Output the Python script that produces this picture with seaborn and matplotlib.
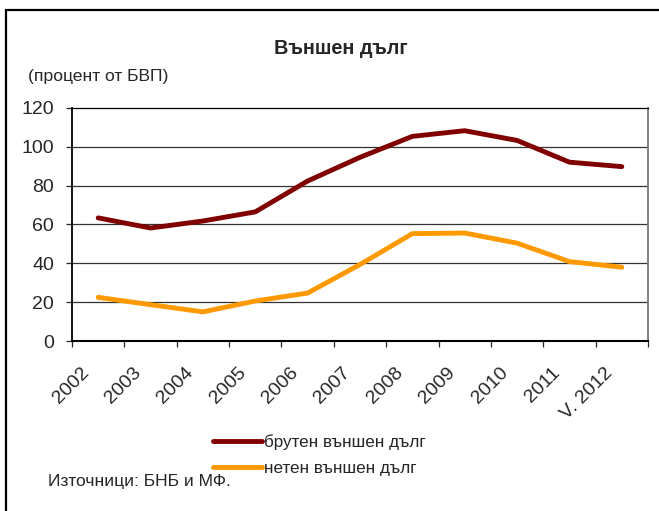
import numpy as np
import pandas as pd
import matplotlib
matplotlib.use("Agg")
import matplotlib.pyplot as plt
import matplotlib.transforms as mtransforms
from matplotlib.patches import Rectangle
import seaborn as sns

# ---- данни ----
godini = ["2002", "2003", "2004", "2005", "2006", "2007",
          "2008", "2009", "2010", "2011", "V. 2012"]
bruten = [63.4, 58.2, 61.8, 66.5, 82.4, 94.6, 105.4, 108.3, 103.3, 92.1, 89.8]
neten = [22.5, 18.7, 15.0, 20.6, 24.7, 39.4, 55.3, 55.6, 50.4, 40.9, 38.0]
serii = ["брутен външен дълг", "нетен външен дълг"]
cveta = ["#800000", "#FF9900"]

df = pd.DataFrame({
    "Година": godini * 2,
    "Стойност": bruten + neten,
    "Серия": [serii[0]] * len(godini) + [serii[1]] * len(godini),
})

sns.set_style("white")
plt.rcParams["font.family"] = ["Liberation Sans", "DejaVu Sans"]

W, H = 659, 511
fig = plt.figure(figsize=(W / 100, H / 100), dpi=100)
ax = fig.add_axes([72 / W, 1 - 341 / H, (648 - 72) / W, (341 - 108) / H])

sns.lineplot(data=df, x="Година", y="Стойност", hue="Серия",
             palette=dict(zip(serii, cveta)), linewidth=3.5,
             sort=False, ax=ax, legend=True)

ax.set_xlim(-0.5, len(godini) - 0.5)
ax.set_ylim(0, 120)
ax.set_yticks(np.arange(0, 121, 20))
ax.set_xlabel("")
ax.set_ylabel("")

# мрежа
for v in range(20, 120, 20):
    ax.axhline(v, color="#333333", linewidth=0.9, zorder=0)

for s in ["left", "bottom", "top"]:
    ax.spines[s].set_color("black")
ax.spines["left"].set_linewidth(1.3)
ax.spines["bottom"].set_linewidth(1.5)
ax.spines["top"].set_linewidth(0.9)
ax.spines["right"].set_color("#777777")
ax.spines["right"].set_linewidth(1.3)

ax.tick_params(axis="y", which="major", direction="out", length=4.5,
               width=0.9, pad=8.5, labelsize=14, left=True)
ax.set_xticks(range(len(godini)))
ax.set_xticks(np.arange(-0.5, len(godini), 1), minor=True)
ax.tick_params(axis="x", which="major", length=0, pad=21, labelsize=14,
               bottom=True)
ax.tick_params(axis="x", which="minor", direction="out", length=4,
               width=0.9, bottom=True)
ax.set_xticklabels(godini, rotation=45, ha="right", va="center",
                   rotation_mode="anchor")
offset = mtransforms.ScaledTranslation(-12 / 100, 0, fig.dpi_scale_trans)
for lbl in ax.get_xticklabels():
    lbl.set_transform(lbl.get_transform() + offset)

# легенда
leg = ax.legend(loc="center left", bbox_to_anchor=(213 / W, 1 - 455 / H),
                bbox_transform=fig.transFigure, frameon=False,
                fontsize=12.3, handlelength=2.85, handletextpad=0.15,
                labelspacing=0.6, borderpad=0, borderaxespad=0)
for ln in leg.get_lines():
    ln.set_linewidth(3.5)

# текстове
fig.text(341 / W, 1 - 48 / H, "Външен дълг", ha="center", va="center",
         fontsize=14.3, fontweight="bold")
fig.text(28 / W, 1 - 77 / H, "(процент от БВП)", ha="left", va="center",
         fontsize=12.6)
fig.text(48 / W, 1 - 481 / H, "Източници: БНБ и МФ.", ha="left",
         va="center", fontsize=12.6)

# рамка
fig.patches.append(Rectangle((6 / W, -0.2), 1.2, 1.2 - 10 / H,
                             transform=fig.transFigure, fill=False,
                             edgecolor="black", linewidth=1.6))

fig.savefig("out.png", dpi=100)
